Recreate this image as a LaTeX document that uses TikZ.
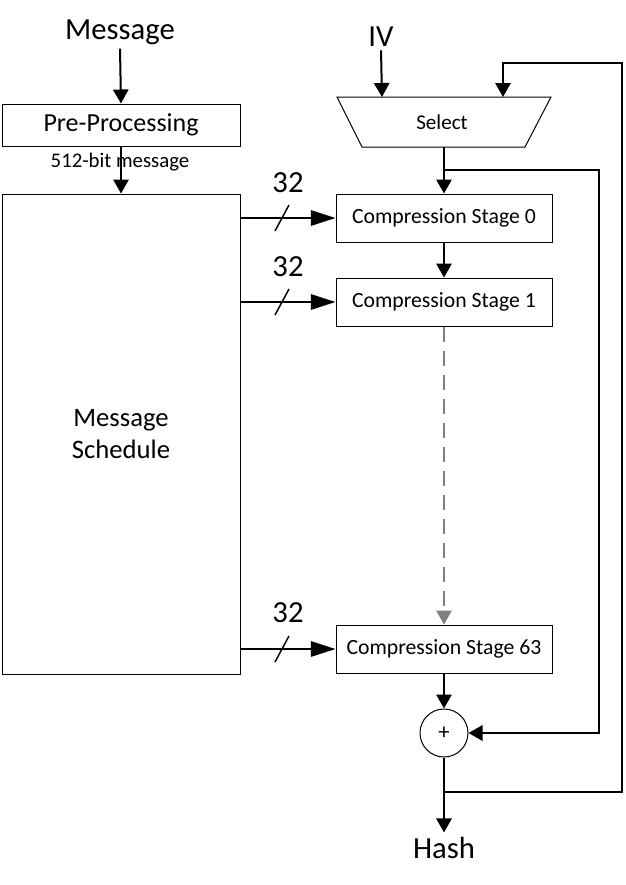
\documentclass[tikz,border=0pt]{standalone}
\usepackage{fontspec}
\setmainfont{Carlito}
\usetikzlibrary{arrows.meta}
\definecolor{dashgray}{RGB}{128,128,128}
\begin{document}
\begin{tikzpicture}[x=0.75pt,y=-0.75pt,
  box/.style={draw, line width=0.75pt, inner sep=0pt},
  stagebox/.style={box, minimum width=162pt, minimum height=36pt, font=\fontsize{16.3}{19}\selectfont},
  wire/.style={line width=1.5pt},
  arr/.style={wire, -{Triangle[length=10.5pt,width=11.5pt]}},
  larr/.style={wire, -{Triangle[length=18.5pt,width=11.5pt]}},
  big/.style={font=\fontsize{23}{27}\selectfont, inner sep=3pt},
  slash/.style={line width=1.1pt},
]
\useasboundingbox (0,0) rectangle (625,885);

% left column
\node[big, anchor=base] (msg) at (120,39) {Message};
\node[box, minimum width=178.5pt, minimum height=31.5pt, font=\fontsize{19.5}{23}\selectfont] (pre) at (121,125) {Pre-Processing};
\node[box, minimum width=178.5pt, minimum height=360pt, align=center, font=\fontsize{20}{23.5}\selectfont] (sched) at (121,434) {Message\\Schedule};
\node[anchor=base, font=\fontsize{15.6}{18}\selectfont, inner sep=0pt] (bits) at (120,167) {512-bit message};

\draw[arr] (msg.south) -- (pre.north);
\draw[arr] (pre.south) -- (sched.north -| pre.south);

% right column
\node[big, anchor=base] (iv) at (381,46) {IV};
\draw[line width=0.75pt] (337,97) -- (551,97) -- (525,147) -- (362,147) -- cycle;
\node[font=\fontsize{15.8}{18}\selectfont] (sel) at (442,122) {Select};
\coordinate (selIV) at (382,97);
\coordinate (selFB) at (503,97);
\coordinate (selOut) at (444,147);

\node[stagebox] (s0) at (444,218) {Compression Stage 0};
\node[stagebox] (s1) at (444,302) {Compression Stage 1};
\node[stagebox] (s63) at (444,649) {Compression Stage 63};
\node[draw, circle, line width=0.75pt, minimum size=36pt, inner sep=0pt, font=\fontsize{17}{18}\selectfont] (add) at (444,733) {+};
\node[big, anchor=base] (hash) at (444,858) {Hash};

\draw[arr] (iv.south) -- (selIV);
\draw[arr] (selOut) -- (s0.north);
\draw[arr] (s0.south) -- (s1.north);
\draw[arr, dashgray, dash pattern=on 11.25pt off 6.75pt] (s1.south) -- (s63.north);
\draw[arr] (s63.south) -- (add.north);
\draw[arr] (add.south) -- (hash.north);

% feedback loops
\coordinate (j1) at (444,170);
\coordinate (j2) at (444,792);
\draw[arr] (j1) -- (599,170) -- (599,733) -- (add.east);
\draw[arr] (j2) -- (622,792) -- (622,63) -- (503,63) -- (selFB);

% 32-bit words
\foreach \s/\yy in {s0/218, s1/302, s63/649} {
  \draw[larr] (sched.east |- \s.west) -- (\s.west);
  \draw[slash] (282,\yy) ++(-7,13) -- ++(14,-26);
}
\node[big, anchor=base, inner sep=0pt] (n0) at (288,192) {32};
\node[big, anchor=base, inner sep=0pt] (n1) at (288,276) {32};
\node[big, anchor=base, inner sep=0pt] (n63) at (288,622) {32};
\end{tikzpicture}
\end{document}
